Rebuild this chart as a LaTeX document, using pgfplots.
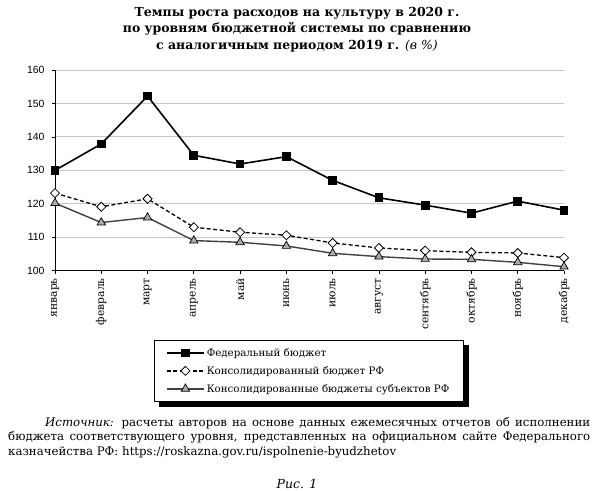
\documentclass[border=0pt]{standalone}
\usepackage{fontspec}
\setmainfont{DejaVu Serif}
\newfontfamily\tickfont{Liberation Sans}
\usepackage{pgfplots}
\pgfplotsset{compat=1.18}
\usetikzlibrary{backgrounds}

\begin{document}
\begin{tikzpicture}[x=1bp,y=1bp]
\path[use as bounding box] (0,0) rectangle (595,-491);

% title
\node[align=center, font=\bfseries\fontsize{12.5}{16.8}\selectfont] at (297,-29.5)
  {Темпы роста расходов на культуру в 2020 г.\\
   по уровням бюджетной системы по сравнению\\
   с аналогичным периодом 2019 г. {\mdseries\itshape (в \%)}};

\begin{axis}[
    at={(55bp,-270.7bp)}, anchor=south west,
    scale only axis, width=509bp, height=200.7bp,
    xmin=0, xmax=11, ymin=100, ymax=160,
    ytick={100,110,...,160},
    xtick={0,...,11},
    xticklabels={январь,февраль,март,апрель,май,июнь,июль,август,сентябрь,октябрь,ноябрь,декабрь},
    x tick label style={rotate=90, anchor=east, font=\fontsize{10.8}{12}\selectfont, xshift=-1bp},
    y tick label style={font=\tickfont\fontsize{10.5}{12}\selectfont, xshift=-4bp},
    /pgf/number format/assume math mode=true,
    axis x line*=bottom, axis y line*=left,
    axis line style={black, line width=0.8pt},
    tick style={black, line width=0.8pt},
    tick align=outside, major tick length=3bp,
    ymajorgrids, grid style={gray!45, line width=0.9pt},
    clip=false,
    legend cell align=left,
    legend style={name=leg, at={(axis description cs:0.4985,-0.344)}, anchor=north,
        draw=black, line width=0.9bp, fill=white,
        font=\fontsize{10.3}{12}\selectfont,
        row sep=4.5bp, inner xsep=12bp, inner ysep=6bp},
    legend image code/.code={%
        \draw[#1] (0bp,0bp) -- (37bp,0bp);
        \draw[#1, solid] plot[only marks] coordinates {(18.5bp,0bp)};},
]

\addplot[black, line width=1.6bp, mark=square*, mark size=3.6bp, mark options={solid}]
  coordinates {(0,130.0)(1,137.9)(2,152.2)(3,134.5)(4,131.9)(5,134.1)
               (6,127.0)(7,121.8)(8,119.6)(9,117.2)(10,120.8)(11,118.1)};
\addlegendentry{Федеральный бюджет}

\addplot[black, line width=1.3bp, dash pattern=on 4bp off 2.5bp,
         mark=square*, mark size=3.2bp,
         mark options={solid, rotate=45, fill=white, line width=0.8bp}]
  coordinates {(0,123.2)(1,119.1)(2,121.5)(3,113.0)(4,111.5)(5,110.6)
               (6,108.3)(7,106.8)(8,106.0)(9,105.5)(10,105.3)(11,103.9)};
\addlegendentry{Консолидированный бюджет РФ}

\addplot[black!75, line width=1.4bp, mark=triangle*, mark size=4.8bp,
         mark options={solid, fill=gray!65, draw=black, line width=0.7bp}]
  coordinates {(0,120.2)(1,114.4)(2,115.9)(3,109.0)(4,108.5)(5,107.4)
               (6,105.2)(7,104.2)(8,103.5)(9,103.4)(10,102.5)(11,101.2)};
\addlegendentry{Консолидированные бюджеты субъектов РФ}

\end{axis}

% legend shadow
\begin{scope}[on background layer]
  \fill[black] ([xshift=5.5bp,yshift=-5.5bp]leg.south west) rectangle ([xshift=5.5bp,yshift=-5.5bp]leg.north east);
\end{scope}

% source note
\node[anchor=north west, text width=582bp, align=justify, inner sep=0pt,
      font=\fontsize{11.8}{14.5}\selectfont] at (8,-417)
  {\hspace*{37bp}\textit{Источник:} расчеты авторов на основе данных ежемесячных отчетов об исполнении\linebreak
   бюджета соответствующего уровня, представленных на официальном сайте Федерального\linebreak
   казначейства РФ: https://roskazna.gov.ru/ispolnenie-byudzhetov};

\node[font=\itshape\fontsize{12.5}{14}\selectfont] at (297,-484) {Рис. 1};
\end{tikzpicture}
\end{document}
